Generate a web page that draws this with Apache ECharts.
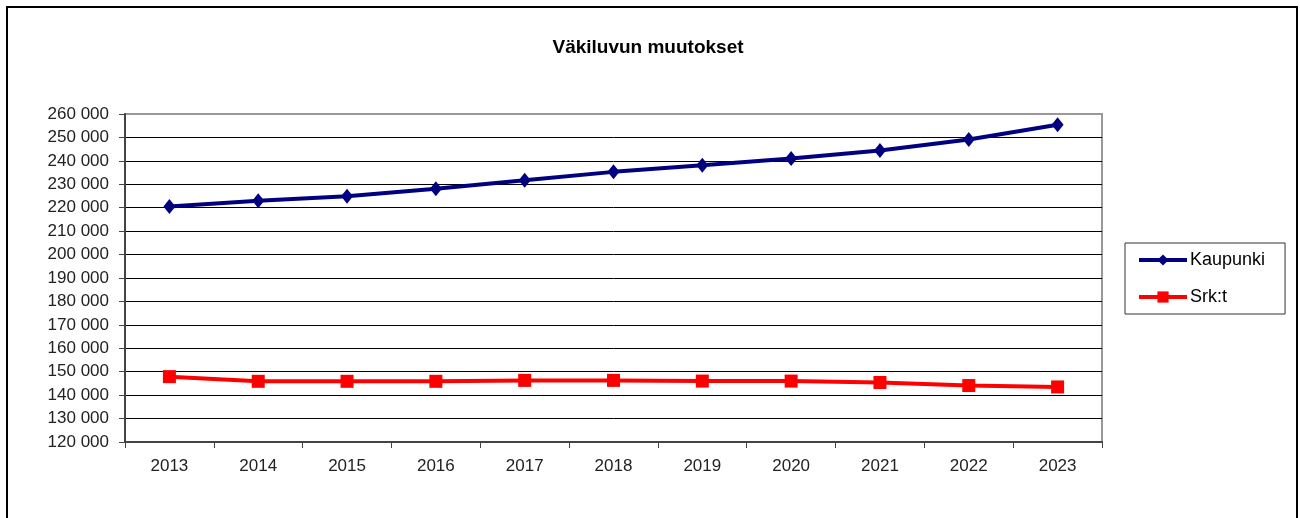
<!DOCTYPE html>
<html lang="fi">
<head>
    <meta charset="UTF-8">
    <title>Väkiluvun muutokset</title>
    <script type="text/javascript" src="https://cdn.jsdelivr.net/npm/echarts@6/dist/echarts.min.js"></script>
</head>
<body style="height: 518px; margin: 0; width: 1300px; background: #fff">
<div id="container" style="height: 100%; width: 100%"></div>
<script type="text/javascript">
    var years = ['2013', '2014', '2015', '2016', '2017', '2018', '2019', '2020', '2021', '2022', '2023'];
    var kaupunki = [220500, 223000, 224900, 228100, 231700, 235300, 238100, 241000, 244400, 249100, 255400];
    var srkt = [147900, 145900, 145900, 145900, 146300, 146300, 146000, 146000, 145400, 144100, 143500];

    var dom = document.getElementById("container");
    var myChart = echarts.init(dom);
    var font = 'Liberation Sans, Arial, sans-serif';

    // gridlines black, the top one (260 000) grey like the plot frame
    var gridColors = [];
    for (var i = 0; i < 14; i++) gridColors.push('#000');
    gridColors.push('#999');

    var option = {
        animation: false,
        title: {
            text: 'Väkiluvun muutokset',
            left: 643,
            textAlign: 'center',
            top: 33,
            textStyle: {fontFamily: font, fontSize: 19, fontWeight: 'bold', color: '#000'}
        },
        graphic: [{
            type: 'rect',
            shape: {x: 7, y: 7, width: 1290, height: 600},
            style: {fill: 'none', stroke: '#000', lineWidth: 2},
            silent: true
        }],
        legend: {
            left: 1125,
            top: 243,
            orient: 'vertical',
            itemWidth: 48,
            itemHeight: 14,
            itemGap: 19,
            padding: [8, 20, 8, 12],
            borderColor: '#333',
            borderWidth: 1,
            lineStyle: {width: 4},
            textStyle: {fontFamily: font, fontSize: 18, color: '#000', padding: [0, 0, 0, -2]},
            data: ['Kaupunki', 'Srk:t']
        },
        grid: {
            left: 125,
            right: 198,
            top: 114,
            bottom: 76,
            show: true,
            borderColor: '#999',
            borderWidth: 2
        },
        xAxis: {
            type: 'category',
            data: years,
            boundaryGap: true,
            axisLine: {lineStyle: {color: '#444', width: 2}},
            axisTick: {show: true, length: 6, lineStyle: {color: '#444'}},
            axisLabel: {fontFamily: font, fontSize: 17, color: '#222', margin: 16}
        },
        yAxis: {
            type: 'value',
            min: 120000,
            max: 260000,
            interval: 10000,
            axisLine: {show: true, lineStyle: {color: '#444', width: 2}},
            axisTick: {show: true, length: 6, lineStyle: {color: '#444'}},
            splitLine: {lineStyle: {color: gridColors, width: 1}},
            axisLabel: {
                fontFamily: font, fontSize: 17, color: '#222', margin: 16,
                formatter: function (v) {
                    return String(v).replace(/\B(?=(\d{3})+(?!\d))/g, ' ');
                }
            }
        },
        series: [
            {
                name: 'Kaupunki',
                type: 'line',
                data: kaupunki,
                symbol: 'diamond',
                symbolSize: [12, 15],
                lineStyle: {color: '#000080', width: 4},
                itemStyle: {color: '#000080'}
            },
            {
                name: 'Srk:t',
                type: 'line',
                data: srkt,
                symbol: 'rect',
                symbolSize: 13,
                lineStyle: {color: '#ff0000', width: 4},
                itemStyle: {color: '#ff0000'}
            }
        ]
    };
    myChart.setOption(option, true);
</script>
</body>
</html>
